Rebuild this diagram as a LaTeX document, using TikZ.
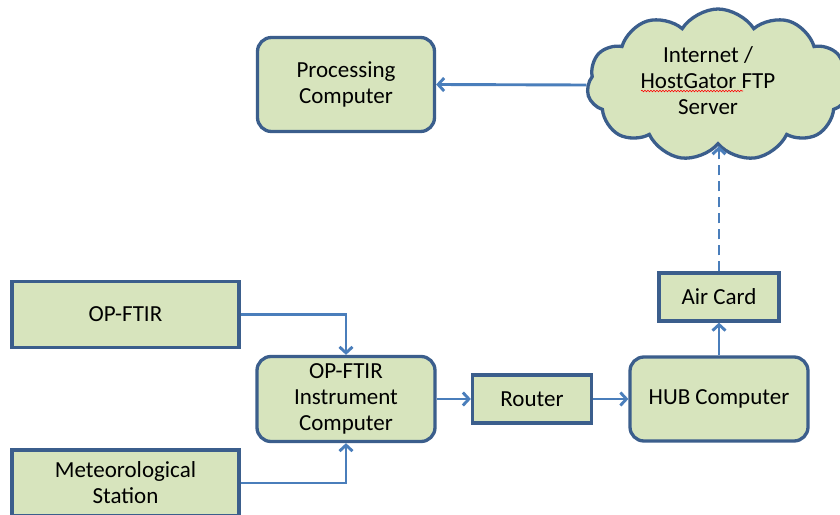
\documentclass[tikz,border=0pt]{standalone}
\usepackage{fontspec}
\setmainfont{Carlito}
\usetikzlibrary{arrows.meta,shapes.symbols,decorations.pathmorphing}
\definecolor{boxfill}{HTML}{D7E4BD}
\definecolor{boxline}{HTML}{3B5E8C}
\definecolor{arrowc}{HTML}{4A7EBB}
\begin{document}
\begin{tikzpicture}[x=1pt,y=-1pt,
  every node/.style={font=\fontsize{23}{26}\selectfont, align=center, text=black},
  sqbox/.style={draw=boxline, fill=boxfill, line width=3.3pt, inner sep=0pt},
  rbox/.style={sqbox, rounded corners=14pt},
  conn/.style={draw=arrowc, line width=2.9pt, -{Straight Barb[length=6pt,width=13pt,line width=2.9pt]}}
]
\clip (0,0) rectangle (840,514);
\fill[white] (0,0) rectangle (840,514);

\node[cloud, cloud puffs=11, cloud puff arc=115, cloud ignores aspect, draw=boxline, fill=boxfill,
      line width=3.3pt, minimum width=262pt, minimum height=152pt, inner sep=0pt] (cloud) at (718,85) {};
\node (cloudtext) at (708,81) {Internet /\\HostGator FTP\\Server};
\draw[red, line width=0.6pt, decorate, decoration={snake, amplitude=0.8pt, segment length=3pt}]
  ([xshift=-67pt,yshift=-10pt]cloudtext.center) -- ([xshift=35pt,yshift=-10pt]cloudtext.center);

\node[rbox, minimum width=177pt, minimum height=94pt] (proc) at (346,84.5) {Processing\\Computer};
\node[sqbox, minimum width=227pt, minimum height=66pt] (opftir) at (125.5,314.5) {OP-FTIR};
\node[sqbox, minimum width=227pt, minimum height=66pt] (met) at (125.5,483) {Meteorological\\Station};
\node[rbox, minimum width=178pt, minimum height=85pt] (inst) at (346,399) {OP-FTIR\\Instrument\\Computer};
\node[sqbox, minimum width=119pt, minimum height=48pt] (router) at (532,399) {Router};
\node[rbox, minimum width=178pt, minimum height=84pt] (hub) at (719,399) {HUB Computer};
\node[sqbox, minimum width=120pt, minimum height=48pt] (air) at (719,297) {Air Card};

\draw[conn] (cloud.west) -- (proc.east);
\draw[conn] (opftir.east) -| (inst.north);
\draw[conn] (met.east) -| (inst.south);
\draw[conn] (inst.east) -- (router.west);
\draw[conn] (router.east) -- (hub.west);
\draw[conn] (hub.north) -- (air.south);
\draw[conn, dash pattern=on 10pt off 6pt] (air.north) -- (air.north |- cloud.south);
\end{tikzpicture}
\end{document}
